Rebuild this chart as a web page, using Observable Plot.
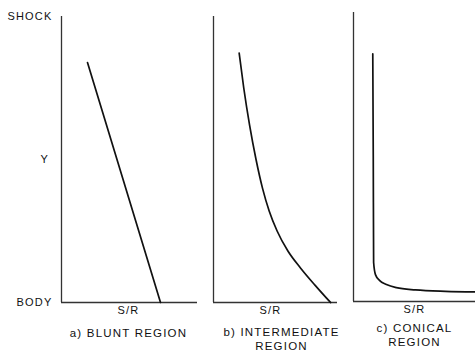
<!DOCTYPE html>
<html><head><meta charset="utf-8">
<script src="https://cdn.jsdelivr.net/npm/d3@7"></script>
<script src="https://cdn.jsdelivr.net/npm/@observablehq/plot@0.6"></script>
<style>
html,body{margin:0;padding:0;background:#fff;}
#chart{position:relative;width:475px;height:354px;overflow:hidden;}
#chart svg{position:absolute;top:0;overflow:visible;}
</style></head><body><div id="chart"></div>
<script>
// ---- data ----
const panels = ["a", "b", "c"];
const captions = ["a) BLUNT REGION", "b) INTERMEDIATE\nREGION", "c) CONICAL\nREGION"];
const xLabel = "S/R";
const yLabel = "Y";
const yTickValues = [0, 1];
const yTickLabels = ["BODY", "SHOCK"];
// a) blunt region: straight line
const bluntS = [0.191, 0.728];
const bluntY = [0.839, 0.0];
// b) intermediate region
const interS = [0.207, 0.244, 0.291, 0.343, 0.395, 0.449, 0.513, 0.600, 0.703, 0.820, 0.944];
const interY = [0.872, 0.750, 0.620, 0.500, 0.400, 0.320, 0.250, 0.180, 0.120, 0.060, 0.0];
// c) conical region
const conicS = [0.158, 0.162, 0.165, 0.180, 0.213, 0.270, 0.352, 0.508, 0.754, 1.0];
const conicY = [0.857, 0.500, 0.135, 0.093, 0.073, 0.059, 0.048, 0.040, 0.035, 0.033];

const series = [
  bluntS.map((s, i) => ({s, y: bluntY[i]})),
  interS.map((s, i) => ({s, y: interY[i]})),
  conicS.map((s, i) => ({s, y: conicY[i]}))
];

// ---- layout (presentation only) ----
const layout = [
  {left: 0,   width: 200, mL: 61, mR: 3, mT: 16, mB: 52, capDx: -1, capDy: 24, srDx: -1, srDy: 11.5},
  {left: 200, width: 140, mL: 13, mR: 3, mT: 16, mB: 52, capDx: 6, capDy: 23, srDx: -5, srDy: 11},
  {left: 340, width: 135, mL: 13, mR: 0, mT: 12, mB: 53, capDx: 0, capDy: 20, srDx: 0, srDy: 11}
];

const chart = document.getElementById("chart");
const ink = "#111";

panels.forEach((p, i) => {
  const L = layout[i];
  const marks = [
    Plot.ruleY([0], {stroke: "#333", strokeWidth: 1.3}),
    Plot.ruleX([0], {y1: 0, y2: 1, stroke: "#333", strokeWidth: 1.3}),
    Plot.line(series[i], {x: "s", y: "y", stroke: ink, strokeWidth: 1.7,
      curve: i === 0 ? "linear" : "monotone-x"}),
    Plot.text([xLabel], {frameAnchor: "bottom", dx: L.srDx, dy: L.srDy, fontSize: 11, fill: ink}),
    Plot.text([captions[i]], {frameAnchor: "bottom", dx: L.capDx, dy: L.capDy, lineAnchor: "top",
      lineHeight: 1.25, fontSize: 11.5, fill: ink, style: "letter-spacing:1.6px"})
  ];
  if (i === 0) {
    marks.push(Plot.text([yLabel], {frameAnchor: "left", dx: -21, fontSize: 11, fill: ink}));
  }
  const svg = Plot.plot({
    width: L.width,
    height: 354,
    marginLeft: L.mL, marginRight: L.mR, marginTop: L.mT, marginBottom: L.mB,
    x: {domain: [0, 1], axis: null},
    y: i === 0
      ? {domain: [0, 1], ticks: yTickValues, tickFormat: (d) => yTickLabels[yTickValues.indexOf(d)],
         tickSize: 0, tickPadding: 9, label: null, fontSize: 11}
      : {domain: [0, 1], axis: null},
    style: {fontFamily: "Liberation Sans, Arial, sans-serif", fontSize: "11px", letterSpacing: "1.2px",
            color: ink, background: "transparent", overflow: "visible"},
    marks
  });
  svg.style.left = L.left + "px";
  chart.appendChild(svg);
});
</script></body></html>
